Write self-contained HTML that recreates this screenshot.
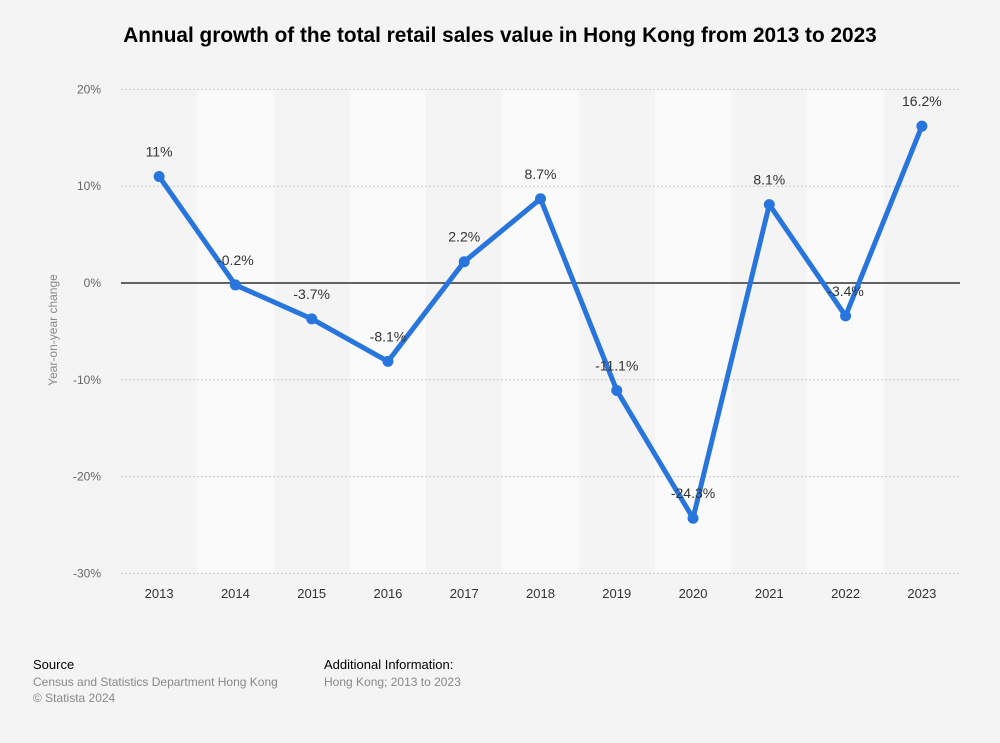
<!DOCTYPE html>
<html><head><meta charset="utf-8"><style>
body{margin:0;background:#f4f4f4;font-family:"Liberation Sans",Arial,sans-serif;}
svg{display:block}
</style></head><body>
<svg width="1000" height="743">
<rect width="1000" height="743" fill="#f4f4f4"/>
<text x="500" y="42" text-anchor="middle" font-size="20.8" font-weight="bold" fill="#000">Annual growth of the total retail sales value in Hong Kong from 2013 to 2023</text>
<g id="bands"></g><g id="grid"></g><g id="series"></g><g id="labels"></g>
<text transform="translate(57,330) rotate(-90)" text-anchor="middle" font-size="12" fill="#888">Year-on-year change</text>
<text x="33" y="669" font-size="13" fill="#000">Source</text>
<text x="33" y="686" font-size="12" fill="#888">Census and Statistics Department Hong Kong</text>
<text x="33" y="702" font-size="12" fill="#888">© Statista 2024</text>
<text x="324" y="669" font-size="13" fill="#000">Additional Information:</text>
<text x="324" y="686" font-size="12" fill="#888">Hong Kong; 2013 to 2023</text>
</svg>
<script>
const categories=["2013","2014","2015","2016","2017","2018","2019","2020","2021","2022","2023"];
const values=[11,-0.2,-3.7,-8.1,2.2,8.7,-11.1,-24.3,8.1,-3.4,16.2];
const valueLabels=["11%","-0.2%","-3.7%","-8.1%","2.2%","8.7%","-11.1%","-24.3%","8.1%","-3.4%","16.2%"];
const yTicks=[20,10,0,-10,-20,-30];
const NS="http://www.w3.org/2000/svg";
const L=121,R=960,y0=283,pp=9.68;
const bw=(R-L)/categories.length;
const x=i=>L+bw*(i+0.5);
const y=v=>y0-v*pp;
function mk(t,a,p){const e=document.createElementNS(NS,t);for(const k in a)e.setAttribute(k,a[k]);p.appendChild(e);return e;}
const bands=document.getElementById('bands'),grid=document.getElementById('grid'),ser=document.getElementById('series'),lab=document.getElementById('labels');
categories.forEach((c,i)=>{
 if(i%2===1){const r=mk('rect',{x:L+bw*i,y:y(20),width:bw,height:y(-30)-y(20),fill:'#fafafa'},bands);
 
 }
 const t=mk('text',{x:x(i),y:598,'text-anchor':'middle','font-size':13,fill:'#333'},lab);t.textContent=c;
 
 
});
yTicks.forEach(v=>{
 const l=mk('line',{x1:L,x2:R,y1:y(v),y2:y(v),stroke:v===0?'#333':'#c8c8c8','stroke-width':v===0?1.5:1,'stroke-dasharray':v===0?'':'2,2'},grid);
 
 
 const t=mk('text',{x:101,y:y(v)+4,'text-anchor':'end','font-size':12,fill:'#666'},lab);t.textContent=v+'%';
 
 
});
const pl=mk('polyline',{points:values.map((v,i)=>x(i)+','+y(v)).join(' '),fill:'none',stroke:'#2876dd','stroke-width':5,'stroke-linejoin':'round'},ser);


values.forEach((v,i)=>{
 const c=mk('circle',{cx:x(i),cy:y(v),r:5.5,fill:'#2876dd'},ser);
 
 
 const t=mk('text',{x:x(i),y:y(v)-20,'text-anchor':'middle','font-size':14,fill:'#333'},lab);t.textContent=valueLabels[i];
 
 
});
</script>
</body></html>
